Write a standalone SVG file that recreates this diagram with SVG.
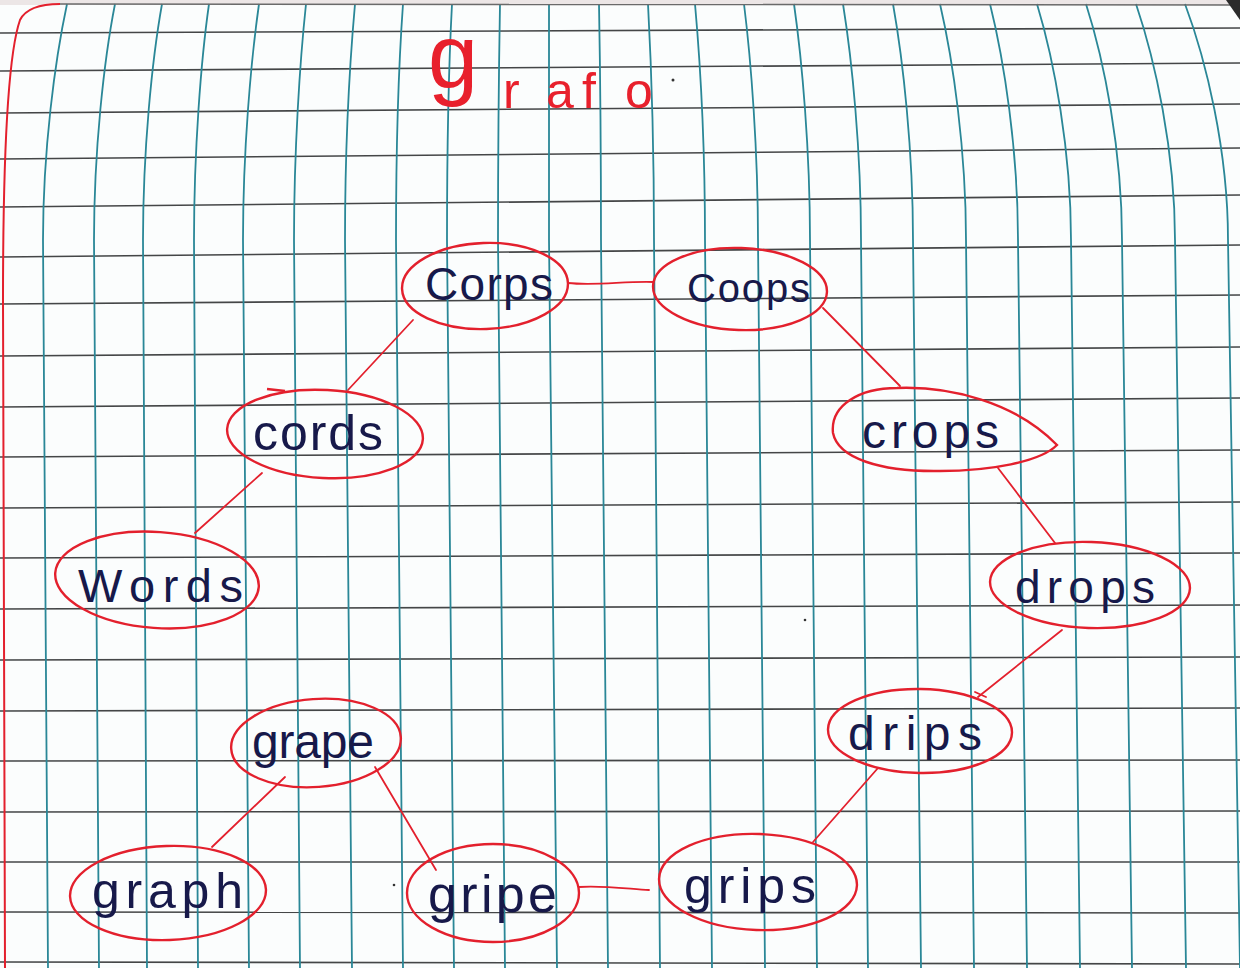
<svg xmlns="http://www.w3.org/2000/svg" width="1240" height="968" viewBox="0 0 1240 968">
<style>
.v{fill:none;stroke:#2a8797;stroke-width:1.8}
.h{fill:none;stroke:#444647;stroke-width:1.6}
.node{fill:none;stroke:#e3202d;stroke-width:2.4}
.edge{fill:none;stroke:#e3202d;stroke-width:1.8;stroke-linecap:round}
.lbl{font-family:"Liberation Sans","DejaVu Sans",sans-serif;fill:#17194a}
.title{font-family:"Liberation Sans","DejaVu Sans",sans-serif;fill:#e8202c}
.dot{fill:#333}
</style>
<rect width="1240" height="968" fill="#fbfdfd"/>
<rect width="1240" height="5" fill="#ece6e6"/>
<g id="grid-h">
<path class="h" d="M0,33 L1240,28"/>
<path class="h" d="M0,71 L1240,63"/>
<path class="h" d="M0,113 L1240,104"/>
<path class="h" d="M0,159 L1240,148"/>
<path class="h" d="M0,207 L1240,195"/>
<path class="h" d="M0,257 L1240,245"/>
<path class="h" d="M0,304 L1240,295"/>
<path class="h" d="M0,356 L1240,347"/>
<path class="h" d="M0,407 L1240,398"/>
<path class="h" d="M0,457 L1240,450"/>
<path class="h" d="M0,508 L1240,502"/>
<path class="h" d="M0,558 L1240,553"/>
<path class="h" d="M0,609 L1240,605"/>
<path class="h" d="M0,660 L1240,657"/>
<path class="h" d="M0,711 L1240,708"/>
<path class="h" d="M0,761 L1240,760"/>
<path class="h" d="M0,812 L1240,811"/>
<path class="h" d="M0,862 L1240,862"/>
<path class="h" d="M0,912 L1240,913"/>
<path class="h" d="M0,962 L1240,964"/>
</g>
<g id="grid-v">
<path class="v" d="M67,4 C55,60 43,150 43,240 L48,968"/>
<path class="v" d="M115,4 C104,60 94,150 94,240 L99,968"/>
<path class="v" d="M162,4 C152,60 143,150 143,240 L147,968"/>
<path class="v" d="M209,4 C201,60 194,150 194,240 L198,968"/>
<path class="v" d="M259,4 C251,60 243,150 243,240 L249,968"/>
<path class="v" d="M306,4 C300,60 294,150 294,240 L300,968"/>
<path class="v" d="M355,4 C350,60 345,150 345,240 L352,968"/>
<path class="v" d="M403,4 C399,60 396,150 396,240 L403,968"/>
<path class="v" d="M452,4 C449,60 447,150 447,240 L454,968"/>
<path class="v" d="M500,4 C499,60 498,150 498,240 L505,968"/>
<path class="v" d="M549,4 C549,60 549,150 549,240 L557,968"/>
<path class="v" d="M599,4 C600,60 601,150 601,240 L608,968"/>
<path class="v" d="M648,4 C651,60 654,150 654,240 L660,968"/>
<path class="v" d="M695,4 C700,60 705,150 705,240 L712,968"/>
<path class="v" d="M744,4 C751,60 758,150 758,240 L765,968"/>
<path class="v" d="M794,4 C802,60 810,150 810,240 L817,968"/>
<path class="v" d="M843,4 C852,60 861,150 861,240 L868,968"/>
<path class="v" d="M893,4 C903,60 913,150 913,240 L921,968"/>
<path class="v" d="M940,4 C953,60 966,150 966,240 L974,968"/>
<path class="v" d="M990,4 C1004,60 1018,150 1018,240 L1027,968"/>
<path class="v" d="M1037,4 C1054,60 1071,150 1071,240 L1080,968"/>
<path class="v" d="M1086,4 C1104,60 1122,150 1122,240 L1132,968"/>
<path class="v" d="M1136,4 C1155,60 1175,150 1175,240 L1186,968"/>
<path class="v" d="M1185,4 C1206,60 1228,150 1228,240 L1240,968"/>
</g>
<g id="page-edge">
<path d="M60,4 L1240,5" fill="none" stroke="#6a6a6a" stroke-width="1.5"/>
<path d="M5,968 L3,300 C3,180 6,60 20,20 C26,8 40,4 60,4" fill="none" stroke="#e3202d" stroke-width="2"/>
<path d="M1226,0 L1240,0 L1240,20 Z" fill="#2b2b2b"/>
</g>
<g id="title">
<text class="title" x="428" y="88" font-size="90">g</text>
<text class="title" y="108" font-size="50"><tspan x="503">r</tspan><tspan x="546">a</tspan><tspan x="582">f</tspan><tspan x="625">o</tspan></text>
<circle cx="673" cy="80" r="1.5" class="dot"/>
</g>
<circle cx="805" cy="620" r="1.3" class="dot"/>
<circle cx="394" cy="885" r="1.3" class="dot"/>
<g id="connectors">
<path class="edge" d="M568,283 C595,286 625,281 653,282"/>
<path class="edge" d="M413,320 L348,390"/>
<path class="edge" d="M823,308 L900,386"/>
<path class="edge" d="M262,473 L195,533"/>
<path class="edge" d="M998,468 L1055,543"/>
<path class="edge" d="M1062,630 L978,697 M975,692 L986,697"/>
<path class="edge" d="M878,768 L813,842"/>
<path class="edge" d="M285,777 L212,847"/>
<path class="edge" d="M375,767 L436,870"/>
<path class="edge" d="M579,887 C600,885 630,889 649,890"/>
</g>
<g id="node-corps">
<ellipse class="node" cx="485" cy="286" rx="83" ry="43" transform="rotate(-2 485 286)"/>
<text class="lbl" x="425" y="300" font-size="46" textLength="128" lengthAdjust="spacing">Corps</text>
</g>
<g id="node-coops">
<ellipse class="node" cx="740" cy="289" rx="87" ry="41" transform="rotate(2 740 289)"/>
<text class="lbl" x="687" y="302" font-size="40" textLength="123" lengthAdjust="spacing">Coops</text>
</g>
<g id="node-cords">
<ellipse class="node" cx="325" cy="434" rx="98" ry="44" transform="rotate(3 325 434)"/>
<path class="node" d="M267,389 L285,391"/>
<text class="lbl" x="253" y="450" font-size="50" textLength="130" lengthAdjust="spacing">cords</text>
</g>
<g id="node-words">
<ellipse class="node" cx="157" cy="580" rx="102" ry="48" transform="rotate(4 157 580)"/>
<text class="lbl" x="78" y="602" font-size="47" textLength="165" lengthAdjust="spacing">Words</text>
</g>
<g id="node-crops">
<path class="node" d="M833,433 C830,405 860,388 897,388 C950,386 1015,402 1057,445 C1040,462 990,471 940,471 C880,472 838,458 833,433 Z"/>
<text class="lbl" x="862" y="448" font-size="48" textLength="137" lengthAdjust="spacing">crops</text>
</g>
<g id="node-drops">
<ellipse class="node" cx="1090" cy="585" rx="100" ry="43" transform="rotate(2 1090 585)"/>
<text class="lbl" x="1015" y="603" font-size="46" textLength="140" lengthAdjust="spacing">drops</text>
</g>
<g id="node-drips">
<ellipse class="node" cx="920" cy="731" rx="92" ry="42" transform="rotate(1 920 731)"/>
<text class="lbl" x="848" y="750" font-size="48" textLength="134" lengthAdjust="spacing">drips</text>
</g>
<g id="node-grape">
<ellipse class="node" cx="316" cy="743" rx="85" ry="44" transform="rotate(-4 316 743)"/>
<text class="lbl" x="252" y="758" font-size="48" textLength="122" lengthAdjust="spacing">grape</text>
</g>
<g id="node-graph">
<ellipse class="node" cx="168" cy="893" rx="98" ry="47" transform="rotate(-2 168 893)"/>
<text class="lbl" x="92" y="908" font-size="50" textLength="151" lengthAdjust="spacing">graph</text>
</g>
<g id="node-gripe">
<ellipse class="node" cx="493" cy="893" rx="86" ry="49"/>
<text class="lbl" x="428" y="912" font-size="52" textLength="129" lengthAdjust="spacing">gripe</text>
</g>
<g id="node-grips">
<ellipse class="node" cx="758" cy="882" rx="99" ry="48" transform="rotate(2 758 882)"/>
<text class="lbl" x="684" y="903" font-size="50" textLength="132" lengthAdjust="spacing">grips</text>
</g>
</svg>
